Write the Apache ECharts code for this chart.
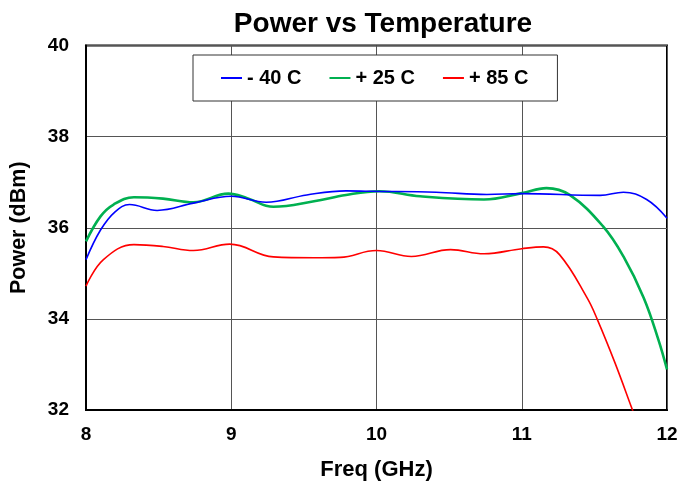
<!DOCTYPE html>
<html>
<head>
<meta charset="utf-8">
<script src="https://cdn.jsdelivr.net/npm/echarts@6/dist/echarts.min.js"></script>
<style>html,body{margin:0;padding:0;background:#fff}#c{width:681px;height:486px}</style>
</head>
<body>
<div id="c"></div>
<script>
var seriesNames = ['- 40 C', '+ 25 C', '+ 85 C'];
var seriesColors = ['#0000FF', '#00B050', '#FF0000'];
var xTicks = [8, 9, 10, 11, 12];
var yTicks = [32, 34, 36, 38, 40];

var freqM40 = [8.00, 8.10, 8.20, 8.30, 8.49, 8.74, 9.00, 9.24, 9.52, 9.79, 9.96, 10.41, 10.76, 11.00, 11.54, 11.70, 11.86, 12.00];
var powM40  = [35.30, 35.95, 36.35, 36.51, 36.38, 36.54, 36.69, 36.56, 36.72, 36.81, 36.80, 36.78, 36.73, 36.75, 36.71, 36.78, 36.62, 36.21];

var freqP25 = [8.00, 8.10, 8.19, 8.33, 8.53, 8.74, 8.98, 9.11, 9.29, 9.57, 9.79, 10.02, 10.30, 10.74, 11.00, 11.17, 11.33, 11.56, 11.70, 11.84, 11.94, 12.00];
var powP25  = [35.70, 36.25, 36.51, 36.67, 36.64, 36.56, 36.75, 36.65, 36.46, 36.58, 36.72, 36.80, 36.69, 36.62, 36.76, 36.87, 36.72, 36.03, 35.37, 34.46, 33.55, 32.89];

var freqP85 = [8.00, 8.12, 8.33, 8.53, 8.74, 8.99, 9.29, 9.57, 9.75, 10.00, 10.24, 10.51, 10.74, 11.00, 11.15, 11.26, 11.45, 11.52, 11.64, 11.76, 11.82];
var powP85  = [34.72, 35.30, 35.63, 35.59, 35.50, 35.64, 35.36, 35.34, 35.35, 35.50, 35.37, 35.52, 35.43, 35.54, 35.58, 35.41, 34.46, 33.99, 33.05, 32.02, 31.50];

function pairs(xs, ys) { return xs.map(function (x, i) { return [x, ys[i]]; }); }

var font = 'Liberation Sans, Arial, sans-serif';
var chart = echarts.init(document.getElementById('c'), null, {renderer: 'canvas'});
var lineWidths = [1.6, 2.6, 1.6];
var datasets = [pairs(freqM40, powM40), pairs(freqP25, powP25), pairs(freqP85, powP85)];

chart.setOption({
  animation: false,
  backgroundColor: '#fff',
  title: {
    text: 'Power vs Temperature',
    left: 378, textAlign: 'center', top: 5,
    textStyle: {fontFamily: font, fontSize: 28, fontWeight: 'bold', color: '#000'}
  },
  legend: {
    data: seriesNames,
    left: 193, top: 55,
    padding: [13, 29, 13, 28],
    itemGap: 28, itemWidth: 21, itemHeight: 2,
    icon: 'rect',
    borderColor: '#333', borderWidth: 1, backgroundColor: '#fff',
    textStyle: {fontFamily: font, fontSize: 20, fontWeight: 'bold', color: '#000'}
  },
  grid: {left: 86, right: 14, top: 45.5, bottom: 75, show: true, borderColor: '#000', borderWidth: 2, backgroundColor: 'transparent'},
  xAxis: {
    type: 'value', min: 8, max: 12, interval: 1,
    name: 'Freq (GHz)', nameLocation: 'middle', nameGap: 49,
    nameTextStyle: {fontFamily: font, fontSize: 22, fontWeight: 'bold', color: '#000'},
    axisLine: {lineStyle: {color: '#000', width: 2}},
    axisTick: {show: false},
    axisLabel: {margin: 15, fontFamily: font, fontSize: 19, fontWeight: 'bold', color: '#000'},
    splitLine: {lineStyle: {color: '#555', width: 1}}
  },
  yAxis: {
    type: 'value', min: 32, max: 40, interval: 2,
    name: 'Power (dBm)', nameLocation: 'middle', nameGap: 56,
    nameTextStyle: {fontFamily: font, fontSize: 21.5, fontWeight: 'bold', color: '#000'},
    axisLine: {show: true, lineStyle: {color: '#000', width: 2}},
    axisTick: {show: false},
    axisLabel: {margin: 17, fontFamily: font, fontSize: 19, fontWeight: 'bold', color: '#000'},
    splitLine: {lineStyle: {color: '#555', width: 1}}
  },
  series: seriesNames.map(function (n, i) {
    return {
      name: n, type: 'line', data: datasets[i], smooth: 0.4, showSymbol: false, clip: true,
      color: seriesColors[i],
      lineStyle: {color: seriesColors[i], width: lineWidths[i]},
      z: [3, 2, 2][i]
    };
  })
});
</script>
</body>
</html>
